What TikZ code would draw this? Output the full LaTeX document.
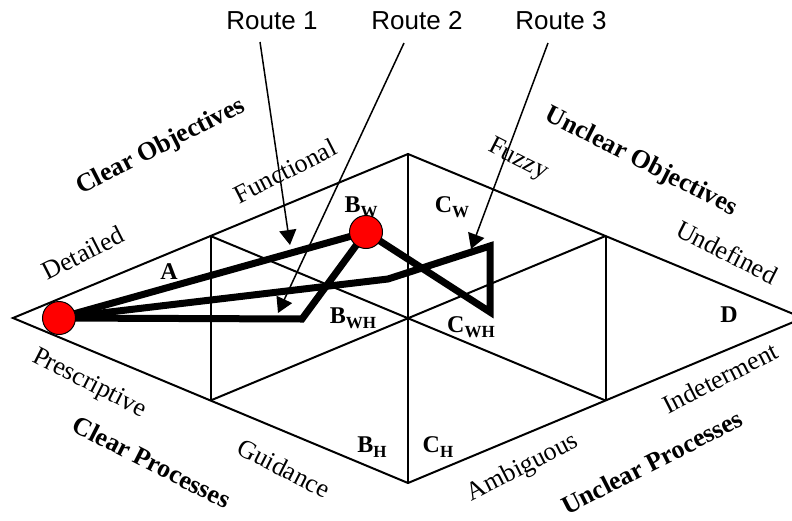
\documentclass[tikz,border=0pt]{standalone}
\usepackage{fontspec}
\setmainfont{Liberation Serif}
\newfontfamily\routefont{Liberation Sans}
\usetikzlibrary{arrows.meta}
% cell name with a lowered subscript
\newcommand\cellsub[2]{#1\raisebox{-5pt}{\fontsize{17}{17}\selectfont #2}}
\begin{document}
\begin{tikzpicture}[x=1pt,y=-1pt,
  grid/.style={line width=2pt},
  route/.style={line width=7pt, line join=miter},
  stop/.style={circle, fill=red, draw=black, line width=1pt, minimum size=33pt, inner sep=0pt},
  pointer/.style={line width=1.5pt, -{Triangle[length=15pt,width=17pt]}},
  edgelabel/.style={font=\fontsize{26}{29}\selectfont, inner sep=0pt},
  grouplabel/.style={font=\fontsize{26}{29}\selectfont\bfseries, inner sep=0pt},
  cell/.style={font=\fontsize{24}{27}\selectfont\bfseries, inner sep=0pt},
  routelabel/.style={font=\routefont\fontsize{26}{30}\selectfont, inner sep=0pt}
]
\useasboundingbox (0,0) rectangle (792,520);
\clip (0,0) rectangle (792,520);

% corners, edge midpoints and centre of the diamond
\coordinate (L)  at (13,318);
\coordinate (T)  at (408,154);
\coordinate (R)  at (803,318);
\coordinate (B)  at (408,483);
\coordinate (TL) at (210.5,236);
\coordinate (BL) at (210.5,400.5);
\coordinate (TR) at (605.5,236);
\coordinate (BR) at (605.5,400.5);

% edge and group labels
\node[grouplabel, rotate=27]  (clearobj)   at (161,147) {Clear Objectives};
\node[edgelabel,  rotate=27]  (functional) at (285,171) {Functional};
\node[edgelabel,  rotate=27]  (detailed)   at (83,253)  {Detailed};
\node[grouplabel, rotate=-27] (unclearobj) at (641,162) {Unclear Objectives};
\node[edgelabel,  rotate=-27] (fuzzy)      at (518,160) {Fuzzy};
\node[edgelabel,  rotate=-27] (undefined)  at (727,252) {Undefined};
\node[edgelabel,  rotate=-27] (prescr)     at (89,384)  {Prescriptive};
\node[grouplabel, rotate=-27] (clearproc)  at (152,462) {Clear Processes};
\node[edgelabel,  rotate=-27] (guidance)   at (284,468) {Guidance};
\node[edgelabel,  rotate=27]  (ambiguous)  at (523,468) {Ambiguous};
\node[edgelabel,  rotate=27]  (indeterm)   at (720,378) {Indeterment};
\node[grouplabel, rotate=27]  (unclearproc) at (652,462) {Unclear Processes};

% cell labels
\node[cell] (cA)   at (169,272) {A};
\node[cell] (cBW)  at (361,207) {\cellsub{B}{W}};
\node[cell] (cBWH) at (353,318) {\cellsub{B}{WH}};
\node[cell] (cCW)  at (452,207) {\cellsub{C}{W}};
\node[cell] (cCWH) at (471,327) {\cellsub{C}{WH}};
\node[cell] (cD)   at (729,315) {D};
\node[cell] (cBH)  at (372,447) {\cellsub{B}{H}};
\node[cell] (cCH)  at (438,447) {\cellsub{C}{H}};

% diamond grid
\draw[grid] (L) -- (T) -- (R) -- (B) -- cycle;
\draw[grid] (T) -- (B);
\draw[grid] (TL) -- (BR);
\draw[grid] (BL) -- (TR);
\draw[grid] (TL) -- (BL);
\draw[grid] (TR) -- (BR);

% start and end points
\coordinate (start) at (59,318);
\coordinate (goal)  at (366,232);

% route waypoints
\coordinate (r2a) at (302,319);
\coordinate (r3a) at (388,279);
\coordinate (r3b) at (490,246);
\coordinate (r3c) at (490,312);

% the three routes
\draw[route] (start) -- (goal);
\draw[route] (start) -- (r2a) -- (goal);
\draw[route] (start) -- (r3a) -- (r3b) -- (r3c) -- (goal);

\node[stop] (startdot) at (start) {};
\node[stop] (goaldot)  at (goal) {};

% route callouts
\node[routelabel] (route1) at (272,21) {Route 1};
\node[routelabel] (route2) at (417,21) {Route 2};
\node[routelabel] (route3) at (561,21) {Route 3};
\coordinate (r1tail) at (260,42);
\coordinate (r2tail) at (404,43);
\coordinate (r3tail) at (548,43);
\coordinate (r1tip) at (290,245);
\coordinate (r2tip) at (278,313);
\coordinate (r3tip) at (471,249);
\draw[pointer] (r1tail) -- (r1tip);
\draw[pointer] (r2tail) -- (r2tip);
\draw[pointer] (r3tail) -- (r3tip);
\end{tikzpicture}
\end{document}
